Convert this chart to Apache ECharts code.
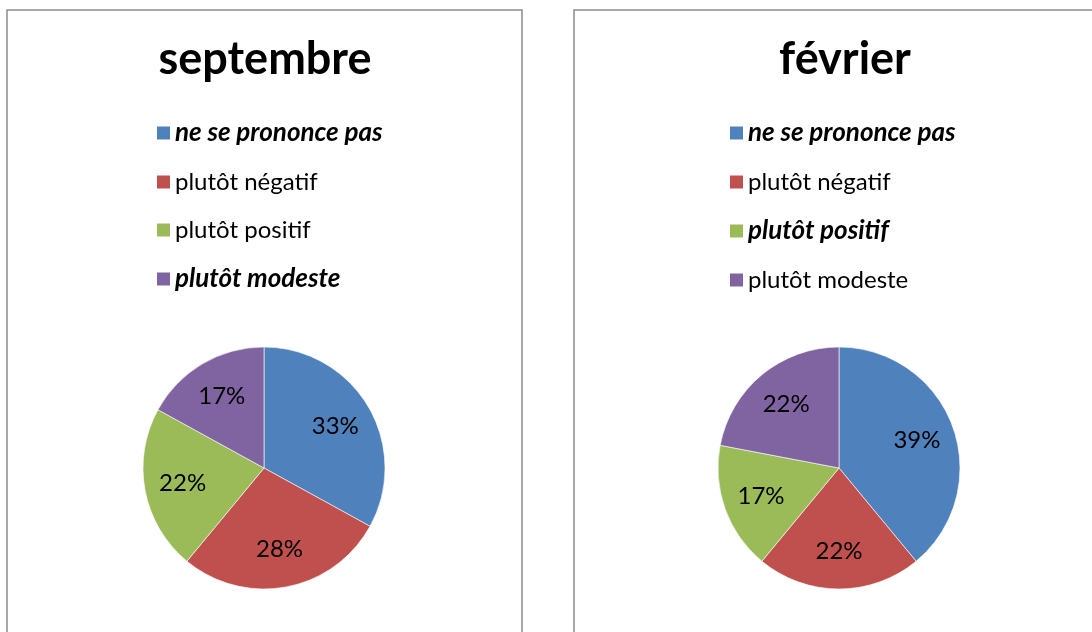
<!DOCTYPE html>
<html>
<head>
    <meta charset='utf-8'/>
    <title>septembre / février</title>
    <style>
        body {
            margin: 0;
            padding: 0;
            background: #fff;
        }

        #chart {
            width: 1092px;
            height: 632px;
        }
    </style>
</head>
<body>
<div id='chart'></div>
<script type="text/javascript" src="https://cdn.jsdelivr.net/npm/echarts@6/dist/echarts.min.js"></script>
<script type="text/javascript">
    var categories = ['ne se prononce pas', 'plutôt négatif', 'plutôt positif', 'plutôt modeste'];
    var septembre = [33, 28, 22, 17];
    var fevrier = [39, 22, 17, 22];
    var colors = ['#4F81BD', '#C0504D', '#9BBB59', '#8064A2'];
    // which legend entries are bold italic in each panel
    var boldSept = [true, false, false, true];
    var boldFev = [true, false, true, false];

    var font = 'Lato, "Open Sans", sans-serif';
    var R = 121;

    function toData(values) {
        return categories.map(function (name, i) {
            return {name: name, value: values[i]};
        });
    }

    function legendData(bold) {
        return categories.map(function (name, i) {
            return bold[i] ? {name: name, textStyle: {fontStyle: 'italic', fontWeight: 'bold', fontSize: 26}} : {name: name};
        });
    }

    function makeLegend(left, bold) {
        return {
            orient: 'vertical',
            left: left,
            top: 120,
            padding: 0,
            icon: 'rect',
            itemWidth: 15,
            itemHeight: 15,
            itemGap: 24,
            selectedMode: false,
            data: legendData(bold),
            textStyle: {fontFamily: font, fontSize: 24, lineHeight: 24, color: '#000', padding: [0, 0, 0, -1]}
        };
    }

    function pieSeries(center, values) {
        return [{
            type: 'pie',
            center: center,
            radius: R,
            startAngle: 90,
            clockwise: true,
            animation: false,
            silent: true,
            label: {show: false},
            labelLine: {show: false},
            itemStyle: {borderColor: '#fff', borderWidth: 0.6},
            data: toData(values)
        }, {
            // transparent ring that only carries the labels, a bit outside mid-radius
            type: 'pie',
            center: center,
            radius: [R * 0.32, R],
            startAngle: 90,
            clockwise: true,
            animation: false,
            silent: true,
            itemStyle: {color: 'rgba(0,0,0,0)'},
            label: {
                show: true,
                position: 'inside',
                formatter: '{c}%',
                fontFamily: font,
                fontSize: 24,
                color: '#000'
            },
            labelLine: {show: false},
            data: toData(values)
        }];
    }

    var chart = echarts.init(document.getElementById('chart'), null, {renderer: 'canvas'});

    var titleStyle = {fontFamily: font, fontSize: 45, fontWeight: 'bold', color: '#000'};

    var option = {
        color: colors,
        animation: false,
        title: [{
            text: 'septembre',
            left: 260,
            top: 32,
            textAlign: 'center',
            textStyle: titleStyle
        }, {
            text: 'février',
            left: 840,
            top: 32,
            textAlign: 'center',
            textStyle: titleStyle
        }],
        legend: [makeLegend(155, boldSept), makeLegend(728, boldFev)],
        graphic: [{
            type: 'rect',
            shape: {x: 7, y: 10, width: 515, height: 700},
            style: {fill: null, stroke: '#8c8c8c', lineWidth: 1.5},
            silent: true
        }, {
            type: 'rect',
            shape: {x: 574, y: 10, width: 600, height: 700},
            style: {fill: null, stroke: '#8c8c8c', lineWidth: 1.5},
            silent: true
        }],
        series: pieSeries([264, 468], septembre).concat(pieSeries([839, 468], fevrier))
    };

    chart.setOption(option);
</script>
</body>
</html>
